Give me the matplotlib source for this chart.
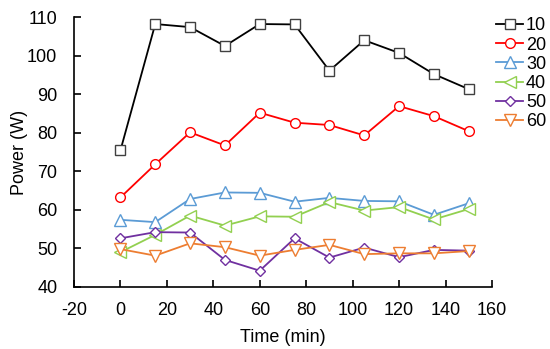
import matplotlib
matplotlib.use("Agg")
import matplotlib.pyplot as plt

plt.rcParams['font.family'] = ['Liberation Sans', 'DejaVu Sans']
plt.rcParams['axes.unicode_minus'] = False

time = [0, 15, 30, 45, 60, 75, 90, 105, 120, 135, 150]
labels = ["10", "20", "30", "40", "50", "60"]
p10 = [75.4, 108.2, 107.4, 102.5, 108.2, 108.1, 96.1, 104.0, 100.7, 95.2, 91.3]
p20 = [63.2, 71.8, 80.1, 76.7, 85.2, 82.6, 82.0, 79.3, 86.9, 84.3, 80.4]
p30 = [57.4, 56.8, 62.8, 64.5, 64.4, 62.1, 63.1, 62.3, 62.2, 58.7, 61.7]
p40 = [49.0, 53.5, 58.5, 55.9, 58.3, 58.2, 62.0, 59.8, 60.7, 57.5, 60.2]
p50 = [52.6, 54.2, 54.1, 47.0, 44.2, 52.6, 47.6, 50.2, 47.7, 49.6, 49.4]
p60 = [49.8, 48.1, 51.3, 50.3, 48.1, 49.6, 50.9, 48.5, 48.7, 48.7, 49.3]

series = [p10, p20, p30, p40, p50, p60]
colors = ["#000000", "#FF0000", "#5B9BD5", "#92D050", "#7030A0", "#ED7D31"]
mecs = ["#404040", "#FF0000", "#5B9BD5", "#92D050", "#7030A0", "#ED7D31"]
markers = ["s", "o", "^", "<", "D", "v"]
msizes = [7.5, 7.0, 8.0, 8.5, 5.5, 8.5]

fig = plt.figure(figsize=(5.5, 3.49), dpi=100)
ax = fig.add_axes([0.1345, 0.178, 0.76, 0.773])

for y, lab, c, mec, m, ms in zip(series, labels, colors, mecs, markers, msizes):
    ax.plot(time, y, color=c, lw=1.3, marker=m, ms=ms, mfc='white', mec=mec,
            mew=1.0, label=lab)

ax.set_xlim(-20, 160)
ax.set_ylim(40, 110)
ax.set_xticks(range(-20, 161, 20))
ax.set_yticks(range(40, 111, 10))
ax.spines['top'].set_visible(False)
ax.spines['right'].set_visible(False)
ax.spines['left'].set_linewidth(1.2)
ax.spines['bottom'].set_linewidth(1.2)
ax.tick_params(direction='in', length=5, width=1.2, labelsize=13)
ax.tick_params(axis='y', pad=12)
ax.tick_params(axis='x', pad=11)
ax.set_xlabel("Time (min)", fontsize=13, labelpad=7)
ax.set_ylabel("Power (W)", fontsize=13, labelpad=-1)

ax.legend(loc='upper left', bbox_to_anchor=(0.902, 0.95), bbox_transform=fig.transFigure,
          frameon=False, fontsize=13, handlelength=1.5, handletextpad=0.15,
          labelspacing=0.12, borderpad=0, borderaxespad=0)

fig.savefig("out.png", dpi=100)
